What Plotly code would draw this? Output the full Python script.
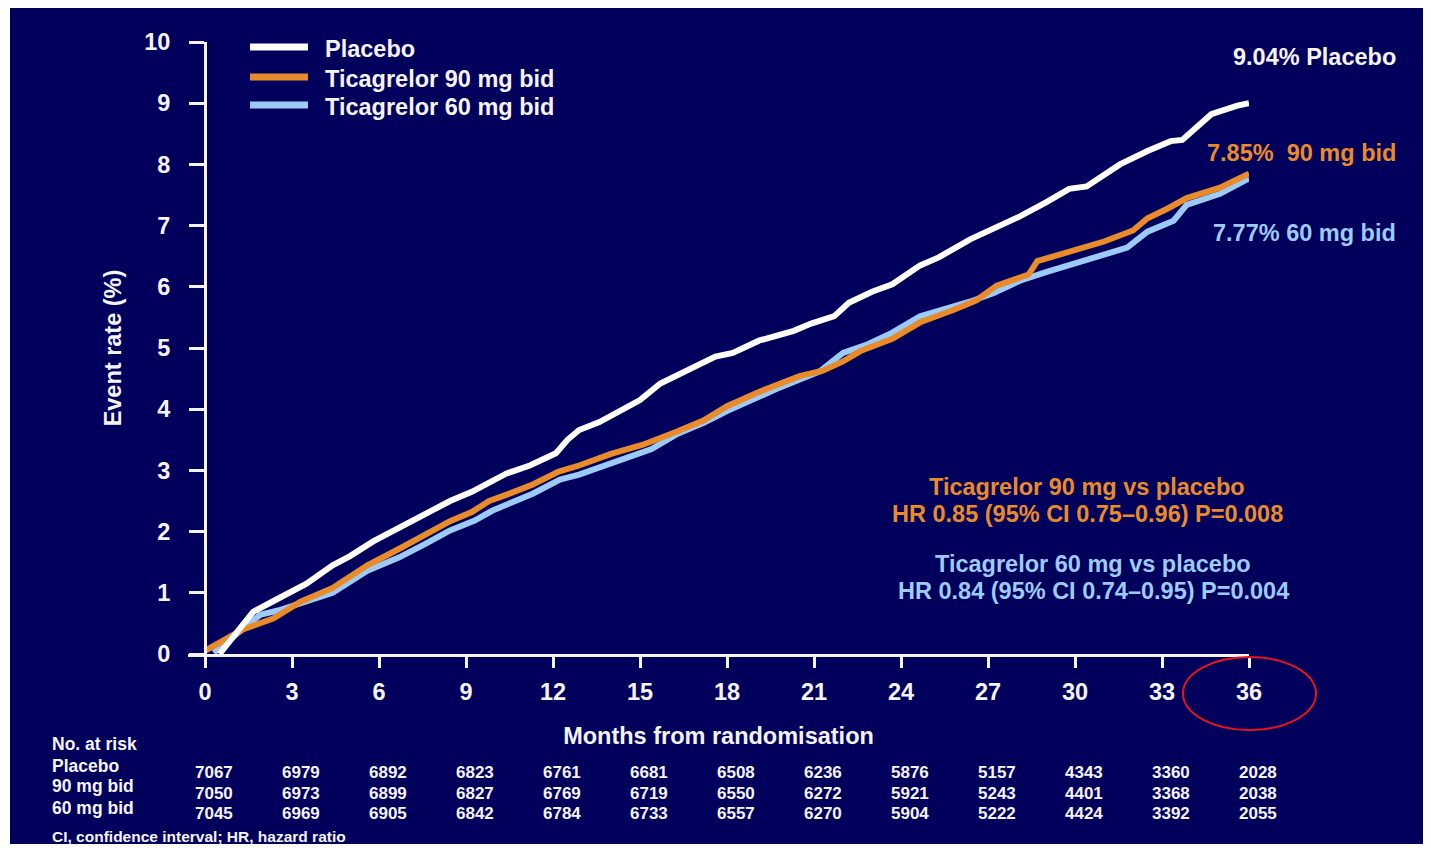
import plotly.graph_objects as go

# ---------------- data ----------------
placebo_m = [0.5, 1.0, 1.66, 2.3, 3.0, 3.5, 4.4, 5.0, 5.8, 6.7, 7.5, 8.45, 9.2, 9.8, 10.4, 11.2,
             12.1, 12.5, 12.9, 13.6, 14.5, 15.0, 15.7, 16.5, 17.6, 18.2, 19.1, 20.3, 20.9, 21.7,
             22.2, 23.0, 23.7, 24.66, 25.3, 26.4, 27.2, 28.1, 29.0, 29.8, 30.4, 31.55, 32.5,
             33.3, 33.7, 34.2, 34.7, 35.6, 36.0]
placebo_v = [0.0, 0.3, 0.69, 0.85, 1.03, 1.15, 1.45, 1.6, 1.84, 2.06, 2.25, 2.5, 2.65, 2.8, 2.95, 3.08,
             3.28, 3.5, 3.66, 3.79, 4.02, 4.15, 4.42, 4.6, 4.86, 4.92, 5.12, 5.28, 5.4, 5.52,
             5.74, 5.92, 6.04, 6.35, 6.48, 6.78, 6.95, 7.15, 7.38, 7.6, 7.64, 8.0, 8.22,
             8.38, 8.4, 8.6, 8.82, 8.96, 9.0]

t90_m = [0.0, 0.5, 1.3, 2.35, 3.28, 4.4, 5.6, 6.7, 7.5, 8.45, 9.2, 9.8, 10.5, 11.3, 12.2, 12.9,
         14.0, 15.1, 16.3, 17.2, 18.0, 19.1, 20.5, 21.3, 22.0, 22.6, 23.7, 24.66, 25.8, 26.6,
         27.3, 28.4, 28.7, 29.8, 31.0, 32.0, 32.5, 33.2, 33.85, 35.0, 36.0]
t90_v = [0.05, 0.18, 0.4, 0.58, 0.85, 1.08, 1.45, 1.72, 1.93, 2.17, 2.32, 2.5, 2.62, 2.77, 2.98, 3.08,
         3.27, 3.42, 3.64, 3.82, 4.05, 4.28, 4.54, 4.63, 4.78, 4.95, 5.15, 5.42, 5.62, 5.78,
         6.02, 6.2, 6.42, 6.58, 6.74, 6.92, 7.12, 7.28, 7.45, 7.62, 7.85]

t60_m = [0.3, 1.0, 1.9, 2.6, 3.28, 4.4, 5.6, 6.7, 7.6, 8.45, 9.3, 9.9, 11.3, 12.24, 12.9, 14.55,
         15.4, 16.3, 17.2, 18.0, 19.7, 21.2, 22.0, 22.8, 23.7, 24.66, 25.3, 26.4, 27.2, 28.1,
         29.0, 29.8, 31.0, 31.8, 32.5, 33.4, 33.85, 35.0, 36.0]
t60_v = [0.02, 0.3, 0.64, 0.72, 0.82, 1.0, 1.36, 1.58, 1.8, 2.02, 2.18, 2.34, 2.62, 2.85, 2.93, 3.2,
         3.35, 3.6, 3.78, 3.97, 4.33, 4.62, 4.92, 5.05, 5.25, 5.52, 5.6, 5.76, 5.9, 6.1,
         6.24, 6.36, 6.54, 6.64, 6.9, 7.08, 7.34, 7.52, 7.77]

x_ticks = [0, 3, 6, 9, 12, 15, 18, 21, 24, 27, 30, 33, 36]
y_ticks = [0, 1, 2, 3, 4, 5, 6, 7, 8, 9, 10]

series_names = ["Placebo", "Ticagrelor 90 mg bid", "Ticagrelor 60 mg bid"]

risk_placebo = [7067, 6979, 6892, 6823, 6761, 6681, 6508, 6236, 5876, 5157, 4343, 3360, 2028]
risk_90 = [7050, 6973, 6899, 6827, 6769, 6719, 6550, 6272, 5921, 5243, 4401, 3368, 2038]
risk_60 = [7045, 6969, 6905, 6842, 6784, 6733, 6557, 6270, 5904, 5222, 4424, 3392, 2055]

# ---------------- style / layout geometry ----------------
OFF = 8                      # page body margin
W, H = 1415, 836
ML, MR, MT, MB = 180, 174, 34, 190
PW, PH = W - ML - MR, H - MT - MB
NAVY = "#00005C"
WHITE = "#F4F4F8"
ORANGE = "#E98B2A"
BLUE = "#9DCBF7"
FONT = "Liberation Sans, Arial, sans-serif"
BIG = 23.5


def px(x):
    """screen x (px) -> paper fraction"""
    return (x - OFF - ML) / PW


def py(y):
    """screen y (px) -> paper fraction"""
    return (H - MB - (y - OFF)) / PH


def f(size, color=WHITE):
    return dict(size=size, color=color, family=FONT, weight="bold")


fig = go.Figure()
fig.add_trace(go.Scatter(x=t60_m, y=t60_v, mode="lines", name=series_names[2],
                         line=dict(color=BLUE, width=6), showlegend=False))
fig.add_trace(go.Scatter(x=t90_m, y=t90_v, mode="lines", name=series_names[1],
                         line=dict(color=ORANGE, width=6), showlegend=False))
fig.add_trace(go.Scatter(x=placebo_m, y=placebo_v, mode="lines", name=series_names[0],
                         line=dict(color="#FFFFFF", width=6), showlegend=False))

x0_range = -(205 - 188) / 29.0

fig.update_layout(
    width=W, height=H,
    margin=dict(l=ML, r=MR, t=MT, b=MB, autoexpand=False),
    paper_bgcolor="white",
    plot_bgcolor=NAVY,
    font=f(BIG),
    showlegend=False,
    xaxis=dict(range=[x0_range, 36], tickvals=x_ticks, showgrid=False, zeroline=False,
               showline=True, linecolor=WHITE, linewidth=3,
               ticks="outside", ticklen=11, tickwidth=3, tickcolor=WHITE,
               ticklabelstandoff=4, tickfont=f(BIG),
               title=dict(text="Months from randomisation", standoff=24, font=f(BIG))),
    yaxis=dict(range=[0, 10], tickvals=y_ticks, showgrid=False, zeroline=False,
               anchor="free", position=px(205),
               showline=True, linecolor=WHITE, linewidth=3,
               ticks="outside", ticklen=15, tickwidth=3, tickcolor=WHITE,
               ticklabelstandoff=14, tickfont=f(BIG),
               title=dict(text="Event rate (%)", standoff=14, font=f(BIG))),
)

# navy background panel (white border around it)
fig.add_shape(type="rect", xref="paper", yref="paper", layer="below",
              x0=px(10), x1=px(1428), y0=py(848), y1=py(6),
              fillcolor=NAVY, line=dict(width=0))

# legend (drawn as keys + labels)
for name, col, yy in zip(series_names, ["#FFFFFF", ORANGE, BLUE], [47, 77, 105]):
    fig.add_shape(type="line", xref="paper", yref="paper",
                  x0=px(250), x1=px(308), y0=py(yy), y1=py(yy),
                  line=dict(color=col, width=7))
    fig.add_annotation(xref="paper", yref="paper", x=px(323), y=py(yy + 2), text=name,
                       showarrow=False, xanchor="left", yanchor="middle", font=f(BIG))

# end labels
for t, yy, c in [("9.04% Placebo", 57, WHITE), ("7.85%  90 mg bid", 153, ORANGE),
                 ("7.77% 60 mg bid", 233, BLUE)]:
    fig.add_annotation(xref="paper", yref="paper", x=px(1398), y=py(yy), text=t,
                       showarrow=False, xanchor="right", yanchor="middle", font=f(BIG, c))

# HR text
for t, xx, yy, c in [("Ticagrelor 90 mg vs placebo", 1087, 487, ORANGE),
                     ("HR 0.85 (95% CI 0.75\u20130.96) P=0.008", 1087, 514, ORANGE),
                     ("Ticagrelor 60 mg vs placebo", 1093, 564, BLUE),
                     ("HR 0.84 (95% CI 0.74\u20130.95) P=0.004", 1093, 591, BLUE)]:
    fig.add_annotation(xref="paper", yref="paper", x=px(xx), y=py(yy), text=t,
                       showarrow=False, xanchor="center", yanchor="middle", font=f(BIG, c))

# number at risk table
for t, yy in [("No. at risk", 744), ("Placebo", 766), ("90 mg bid", 786), ("60 mg bid", 808)]:
    fig.add_annotation(xref="paper", yref="paper", x=px(50), y=py(yy), text=t,
                       showarrow=False, xanchor="left", yanchor="middle", font=f(17.5))
for vals, yy in [(risk_placebo, 772), (risk_90, 793), (risk_60, 813)]:
    for m, v in zip(x_ticks, vals):
        fig.add_annotation(xref="paper", yref="paper", x=px(205 + 29 * m + 9), y=py(yy),
                           text=str(v), showarrow=False, xanchor="center", yanchor="middle",
                           font=f(17))
fig.add_annotation(xref="paper", yref="paper", x=px(50), y=py(836),
                   text="CI, confidence interval; HR, hazard ratio",
                   showarrow=False, xanchor="left", yanchor="middle", font=f(15.5))

# red highlight ellipse around the last tick label
fig.add_shape(type="circle", xref="paper", yref="paper",
              x0=px(1183), x1=px(1316), y0=py(730), y1=py(657),
              line=dict(color="#E8141C", width=2), fillcolor="rgba(0,0,0,0)")

fig.write_html("out.html")
